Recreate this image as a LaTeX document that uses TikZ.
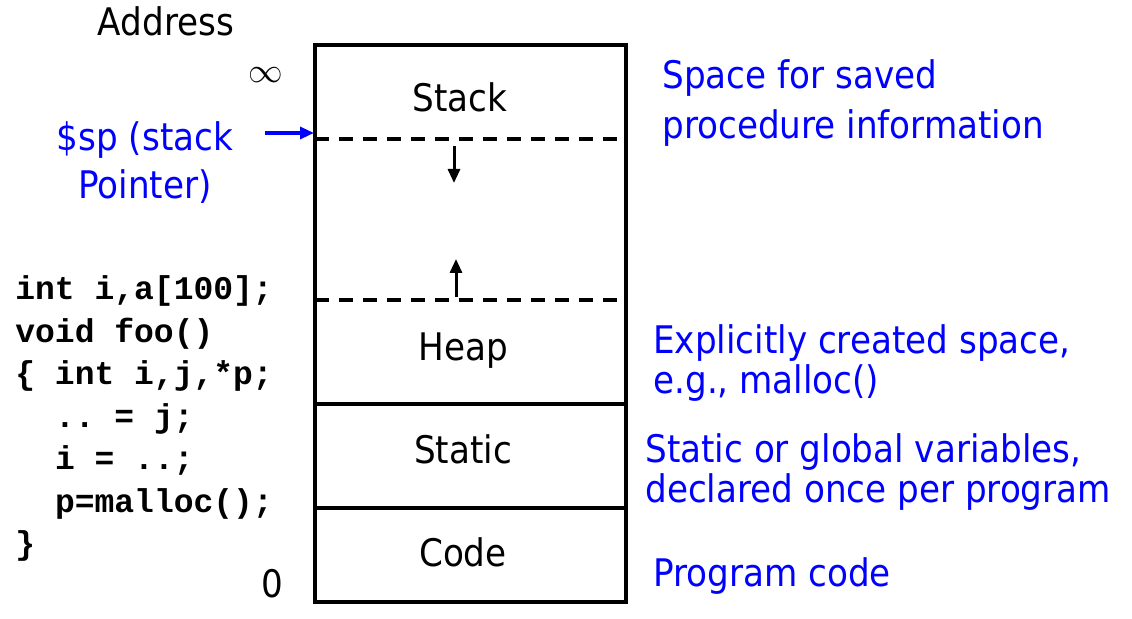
\documentclass[tikz,border=0pt]{standalone}
\usepackage{fontspec}
\setmainfont{DejaVu Sans Condensed}
\setmonofont{Liberation Mono}
\usetikzlibrary{arrows.meta}
\definecolor{mblue}{rgb}{0, 0, 1}
\tikzset{wall/.style = {line width = 1.8pt}}
\tikzset{gap/.style = {line width = 1.8pt, dash pattern = on 7pt off 5pt}}
\tikzset{growth/.style = {line width = 1.5pt, -{Triangle[length=7pt, width=6pt]}}}
\tikzset{ptr/.style = {mblue, line width = 1.6pt, -{Triangle[length=7pt, width=6pt]}}}
\tikzset{seg/.style = {anchor = base, font = \fontsize{19}{24}\selectfont}}
\tikzset{note/.style = {mblue, anchor = base west, align = left, inner sep = 0,
                        font = \fontsize{19}{20}\selectfont}}
\tikzset{src/.style = {anchor = base west, inner sep = 0,
                       font = \ttfamily\bfseries\fontsize{16.5}{20}\selectfont}}

\begin{document}
\begin{tikzpicture}[x=0.5pt, y=-0.5pt]
    \useasboundingbox (0, 0) rectangle (1132, 619);

    % memory layout
    \draw [wall] (315, 45) rectangle (626, 602);
    \draw [gap] (315, 139) -- (626, 139);
    \draw [gap] (315, 300) -- (626, 300);
    \draw [wall] (315, 404) -- (626, 404);
    \draw [wall] (315, 508) -- (626, 508);

    \draw [growth] (454, 146) -- (454, 183);
    \draw [growth] (456, 297) -- (456, 259);

    \node [seg] (stack) at (460, 112) {Stack};
    \node [seg] (heap) at (463, 361) {Heap};
    \node [seg] (static) at (463, 464) {Static};
    \node [seg] (code) at (463, 567) {Code};

    % addresses
    \node [seg] (address) at (166, 36) {Address};
    \node [font = \fontsize{17}{17}\selectfont] (inf) at (266, 75) {$\infty$};
    \node [seg] (zero) at (272, 598) {0};

    % stack pointer
    \node [seg, mblue, align = center] (sp) at (145, 199) {\$sp (stack\\Pointer)};
    \coordinate (sp tail) at (265, 133);
    \coordinate (sp head) at (314, 133);
    \draw [ptr] (sp tail) -- (sp head);

    % descriptions
    \node [note] (stack note) at (662, 139) {Space for saved\\[5pt]procedure information};
    \node [note] (heap note) at (653, 394) {Explicitly created space,\\e.g., malloc()};
    \node [note] (static note) at (645, 503) {Static or global variables,\\declared once per program};
    \node [note] (code note) at (653, 587) {Program code};

    % program
    \foreach \txt [count = \i] in {{int i,a[100];}, {void foo()}, {\{ int i,j,*p;},
                                   {~~.. = j;}, {~~i = ..;}, {~~p=malloc();}, {\}}}
      \node [src] (line \i) at (15, {300 + (\i - 1) * 42.5}) {\txt};
\end{tikzpicture}
\end{document}
